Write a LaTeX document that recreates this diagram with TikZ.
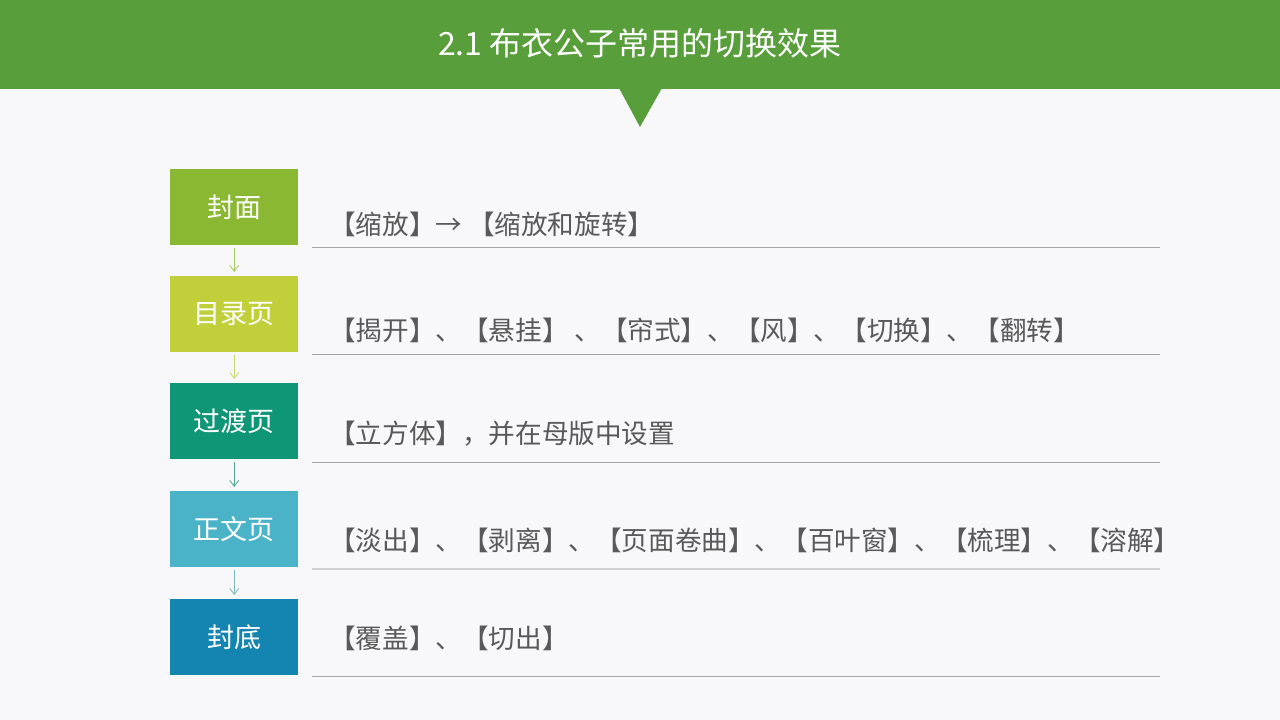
\documentclass[tikz,border=0pt]{standalone}
\usepackage{fontspec}
\setmainfont{Noto Sans CJK SC}
\newfontfamily\cjk{Noto Sans CJK SC}
\usetikzlibrary{arrows.meta}
\definecolor{hdr}{HTML}{589E3A}
\definecolor{bg}{HTML}{F8F8FA}
\definecolor{cA}{HTML}{8AB833}
\definecolor{cB}{HTML}{C0CF3A}
\definecolor{cC}{HTML}{0E9676}
\definecolor{cD}{HTML}{4BB3C8}
\definecolor{cE}{HTML}{1484B0}
\definecolor{aA}{HTML}{A5C860}
\definecolor{aB}{HTML}{C8D870}
\definecolor{aC}{HTML}{4FA68C}
\definecolor{aD}{HTML}{80B8BC}
\definecolor{txt}{HTML}{595959}
\definecolor{rule}{HTML}{A6A6A6}
\tikzset{
  stage/.style={fill=#1, minimum width=128pt, minimum height=76pt, inner sep=0pt,
    text=white, font=\cjk\fontsize{27}{30}\selectfont, anchor=north west},
  flow/.style={draw=#1, line width=0.8pt, -{Straight Barb[length=6pt,width=9pt]}},
  effect/.style={anchor=west, text=txt, inner sep=0pt, font=\cjk\fontsize{26.6}{30}\selectfont},
  rowline/.style={draw=rule, line width=1pt}
}
\begin{document}
\begin{tikzpicture}[x=1pt,y=-1pt]
\useasboundingbox (0,0) rectangle (1280,720);
\fill[bg] (0,0) rectangle (1280,720);
\fill[hdr] (0,0) rectangle (1280,89);
\fill[hdr] (619,88) -- (662,88) -- (640,127) -- cycle;
\node[text=white, font=\cjk\fontsize{32}{36}\selectfont, inner sep=0pt] (title) at (640,43) {2.1 布衣公子常用的切换效果};

\node[stage=cA] (s1) at (170,169) {封面};
\node[stage=cB] (s2) at (170,276) {目录页};
\node[stage=cC] (s3) at (170,383) {过渡页};
\node[stage=cD] (s4) at (170,491) {正文页};
\node[stage=cE] (s5) at (170,599) {封底};

\draw[flow=aA] ([yshift=-3pt]s1.south) -- ([yshift=4pt]s2.north);
\draw[flow=aB] ([yshift=-3pt]s2.south) -- ([yshift=4pt]s3.north);
\draw[flow=aC] ([yshift=-3pt]s3.south) -- ([yshift=4pt]s4.north);
\draw[flow=aD] ([yshift=-3pt]s4.south) -- ([yshift=4pt]s5.north);

\node[effect] (e1) at (329,224) {【缩放】→ 【缩放和旋转】};
\node[effect] (e2) at (329,330) {【揭开】、【悬挂】 、【帘式】、【风】、【切换】、【翻转】};
\node[effect] (e3) at (329,434) {【立方体】，并在母版中设置};
\node[effect] (e4) at (329,540) {【淡出】、【剥离】、【页面卷曲】、【百叶窗】、【梳理】、【溶解】};
\node[effect] (e5) at (329,638) {【覆盖】、【切出】};

\coordinate (l1a) at (312,247); \coordinate (l1b) at (1160,247);
\coordinate (l2a) at (312,354); \coordinate (l2b) at (1160,354);
\coordinate (l3a) at (312,462); \coordinate (l3b) at (1160,462);
\coordinate (l4a) at (312,569); \coordinate (l4b) at (1160,569);
\coordinate (l5a) at (312,676); \coordinate (l5b) at (1160,676);
\draw[rowline] (l1a) -- (l1b);
\draw[rowline] (l2a) -- (l2b);
\draw[rowline] (l3a) -- (l3b);
\draw[rowline, draw=rule!50, line width=1.6pt] (l4a) -- (l4b);
\draw[rowline] (l5a) -- (l5b);
\end{tikzpicture}
\end{document}
